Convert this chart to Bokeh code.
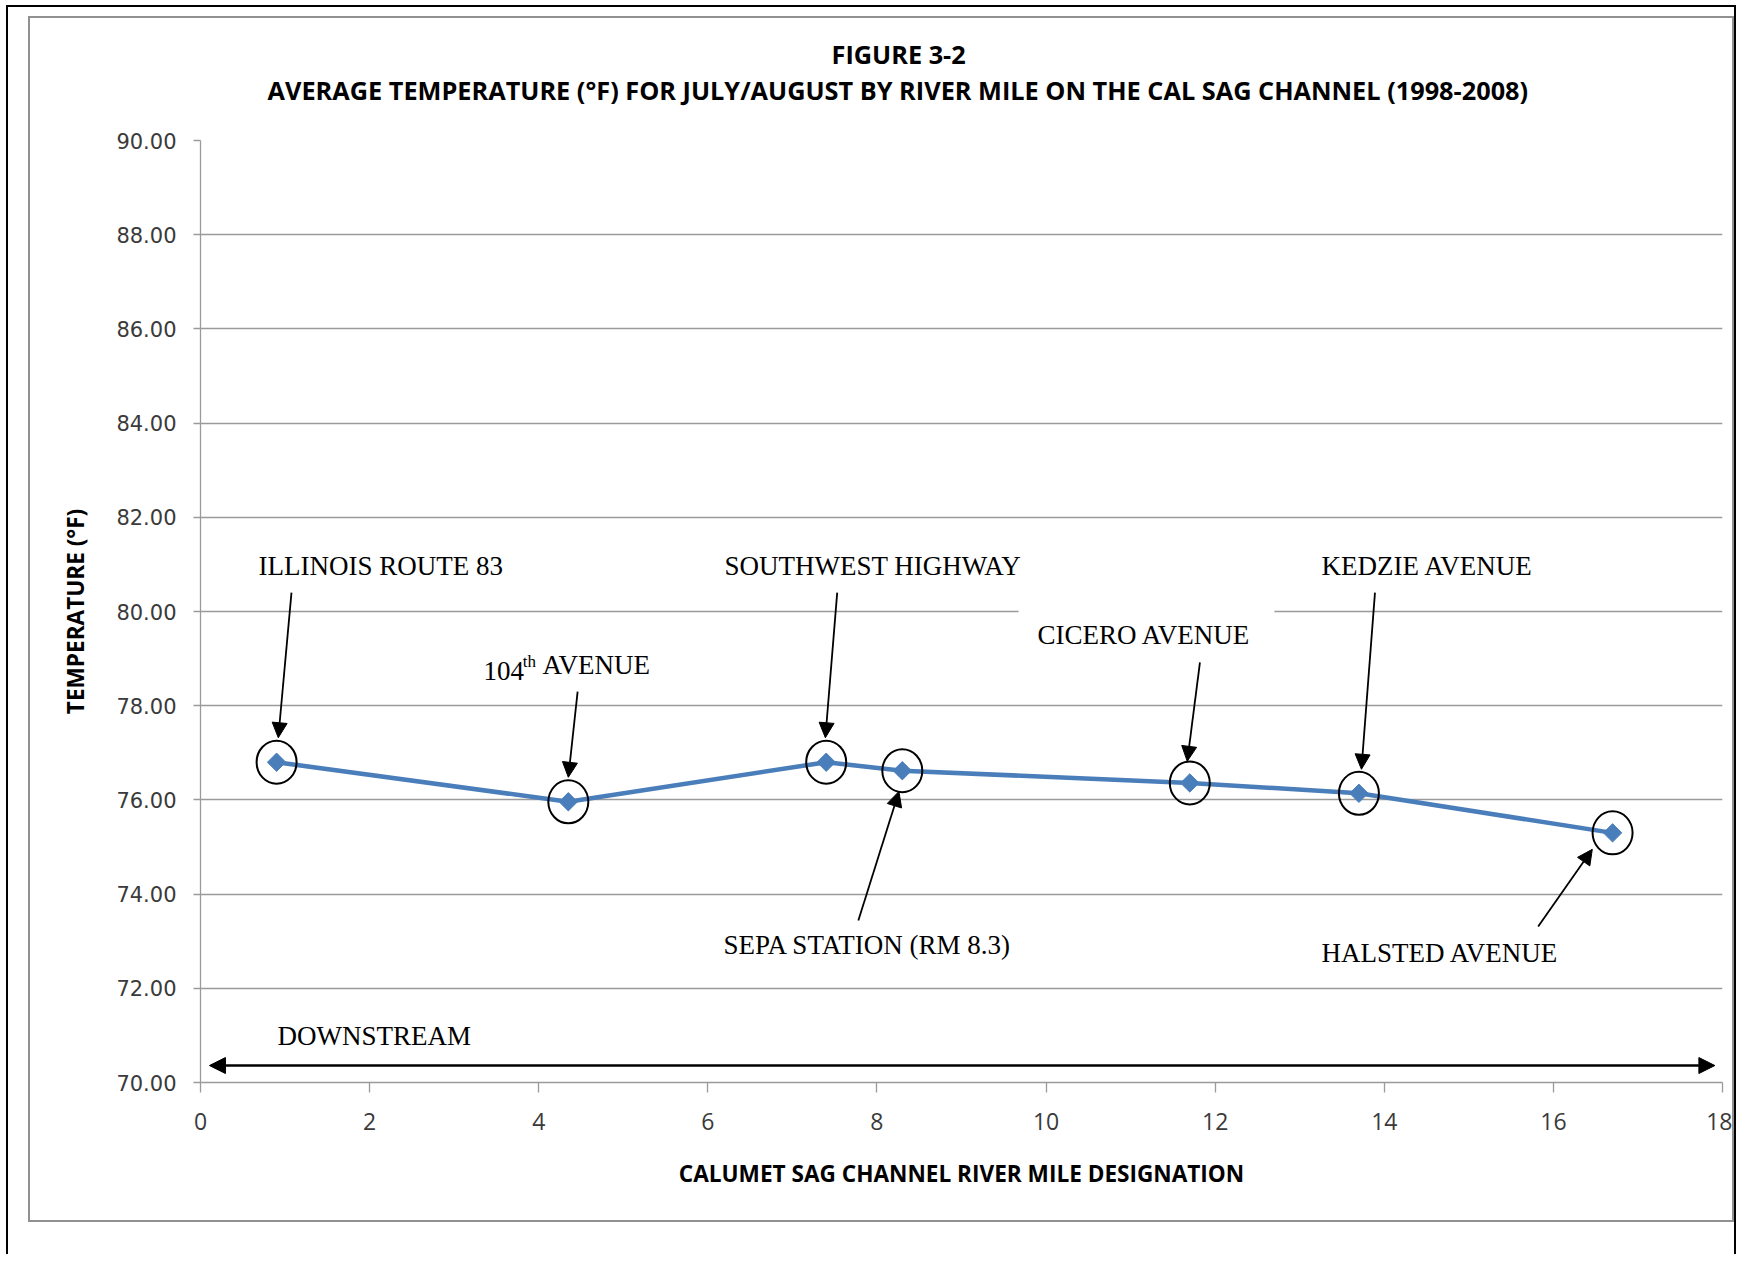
import numpy as np
from bokeh.plotting import figure
from bokeh.layouts import column
from bokeh.models import (Label, Arrow, NormalHead, BoxAnnotation, FixedTicker,
                          Range1d, NumeralTickFormatter, Title)
from bokeh.embed import file_html
from bokeh.resources import INLINE

# ---------------- data ----------------
river_mile = [0.9, 4.35, 7.4, 8.3, 11.7, 13.7, 16.7]
avg_temp_f = [76.80, 75.96, 76.80, 76.62, 76.36, 76.14, 75.30]
stations = ["ILLINOIS ROUTE 83", "104th AVENUE", "SOUTHWEST HIGHWAY",
            "SEPA STATION (RM 8.3)", "CICERO AVENUE", "KEDZIE AVENUE",
            "HALSTED AVENUE"]
x_ticks = [0, 2, 4, 6, 8, 10, 12, 14, 16, 18]
y_ticks = [70, 72, 74, 76, 78, 80, 82, 84, 86, 88, 90]

title_1 = "FIGURE 3-2"
title_2 = "AVERAGE TEMPERATURE  (°F) FOR JULY/AUGUST BY RIVER MILE ON THE CAL SAG CHANNEL (1998-2008)"
x_title = "CALUMET SAG CHANNEL RIVER MILE DESIGNATION"
y_title = "TEMPERATURE (°F)"

W, H = 1706, 1206
p = figure(width=W, height=H, x_range=Range1d(0, 18), y_range=Range1d(70, 90),
           output_backend="svg", toolbar_location=None, title=None,
           min_border_left=170, min_border_right=14, min_border_top=122,
           min_border_bottom=142)
p.outline_line_color = None
p.background_fill_color = "white"
p.border_fill_color = "white"

# titles (stacked above the frame: spacer, line 2, line 1)
p.add_layout(Title(text=" ", text_font_size="2px", standoff=30), "above")
p.add_layout(Title(text=title_2, align="left", offset=67, standoff=0,
                   text_font="Open Sans", text_font_style="bold",
                   text_font_size="25.3px", text_color="black"), "above")
p.add_layout(Title(text=title_1, align="left", offset=631, standoff=0,
                   text_font="Open Sans", text_font_style="bold",
                   text_font_size="25.3px", text_color="black"), "above")

# grid
p.xgrid.visible = False
p.ygrid.ticker = FixedTicker(ticks=y_ticks)
p.ygrid.grid_line_color = "#9a9a9a"
p.ygrid.grid_line_width = 1.3

# axes
p.xaxis.ticker = FixedTicker(ticks=x_ticks)
p.yaxis.ticker = FixedTicker(ticks=y_ticks)
p.yaxis.formatter = NumeralTickFormatter(format="0.00")
for ax in (p.xaxis, p.yaxis):
    ax.axis_line_color = "#9a9a9a"
    ax.axis_line_width = 1.3
    ax.major_tick_line_color = "#9a9a9a"
    ax.major_tick_line_width = 1.3
    ax.major_tick_in = 0
    ax.minor_tick_line_color = None
    ax.major_label_text_color = "#3a3a3a"
    ax.axis_label_text_font = "Open Sans"
    ax.axis_label_text_font_style = "bold"
    ax.axis_label_text_color = "black"
    ax.axis_label_text_font_size = "22.6px"
p.xaxis.major_tick_out = 10
p.yaxis.major_tick_out = 7
p.xaxis.major_label_text_font = "Open Sans"
p.xaxis.major_label_text_font_size = "23px"
p.xaxis.major_label_standoff = 20
p.yaxis.major_label_text_font = "DejaVu Sans"
p.yaxis.major_label_text_font_size = "21px"
p.yaxis.major_label_standoff = 17
p.xaxis.axis_label = x_title
p.xaxis.axis_label_standoff = 25
p.yaxis.axis_label = y_title
p.yaxis.axis_label_standoff = 22

# white box behind CICERO AVENUE label (hides the gridline)
p.add_layout(BoxAnnotation(left=9.675, right=12.70, top=80.15, bottom=79.0,
                           fill_color="white", fill_alpha=1, line_color=None,
                           level="underlay"))

# data line + markers
p.line(river_mile, avg_temp_f, line_width=4.5, line_color="#4a7ebb")
p.scatter(river_mile, avg_temp_f, marker="square", angle=np.pi / 4, size=13,
          fill_color="#4a7ebb", line_color="#4a7ebb")
p.ellipse(x=river_mile, y=avg_temp_f, width=40, height=43,
          width_units="screen", height_units="screen",
          fill_color=None, line_color="black", line_width=2)

# station labels (annotation layout)
label_pos = {
    "ILLINOIS ROUTE 83": (0.686, 80.64),
    "SOUTHWEST HIGHWAY": (6.197, 80.64),
    "KEDZIE AVENUE": (13.258, 80.64),
    "CICERO AVENUE": (9.899, 79.18),
    "SEPA STATION (RM 8.3)": (6.186, 72.60),
    "HALSTED AVENUE": (13.258, 72.44),
}
serif = "Liberation Serif"
fs = "27px"
for name in stations:
    if name in label_pos:
        lx, ly = label_pos[name]
        p.add_layout(Label(x=lx, y=ly, text=name, text_font=serif,
                           text_font_size=fs, text_color="black"))
# 104th AVENUE with superscript
p.add_layout(Label(x=3.347, y=78.54, text="104", text_font=serif,
                   text_font_size=fs, text_color="black"))
p.add_layout(Label(x=3.81, y=78.74, text="th", text_font=serif,
                   text_font_size="17px", text_color="black"))
p.add_layout(Label(x=4.045, y=78.54, text="AVENUE", text_font=serif,
                   text_font_size=fs, text_color="black"))
p.add_layout(Label(x=0.911, y=70.66, text="DOWNSTREAM", text_font=serif,
                   text_font_size=fs, text_color="black"))

# pointer arrows (x_start, y_start, x_end, y_end)
arrows = [
    (1.076, 80.40, 0.92, 77.32),
    (4.46, 78.30, 4.35, 76.48),
    (7.53, 80.40, 7.39, 77.32),
    (7.78, 73.44, 8.26, 76.18),
    (11.82, 78.92, 11.67, 76.82),
    (13.89, 80.40, 13.73, 76.65),
    (15.82, 73.31, 16.46, 74.95),
]
for xs, ys, xe, ye in arrows:
    p.add_layout(Arrow(end=NormalHead(size=15, fill_color="black",
                                      line_color="black", line_width=1),
                       x_start=xs, y_start=ys, x_end=xe, y_end=ye,
                       line_color="black", line_width=1.8))

# downstream double arrow
p.add_layout(Arrow(start=NormalHead(size=16, fill_color="black", line_color="black"),
                   end=NormalHead(size=16, fill_color="black", line_color="black"),
                   x_start=0.106, y_start=70.36, x_end=17.91, y_end=70.36,
                   line_color="black", line_width=2.5))

# frames: grey chart border on the figure, black page border on the wrapper
p.styles = {"border": "2px solid #909090"}
layout = column(p, styles={"margin-left": "6px", "margin-top": "5px",
                           "border-left": "2px solid black",
                           "border-top": "2px solid black",
                           "border-right": "2px solid black",
                           "padding-left": "20px", "padding-top": "9px",
                           "padding-bottom": "32px"})

open("out.html", "w").write(file_html(layout, INLINE))
